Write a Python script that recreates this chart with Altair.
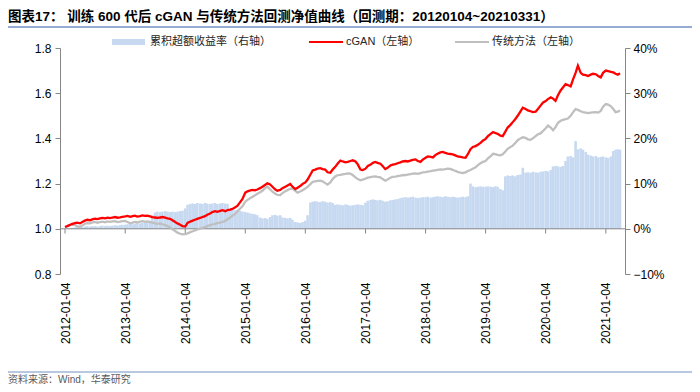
import altair as alt
import pandas as pd

# ---------------- data ----------------
years = list(range(2012, 2021))
dates = [f"{y}-{m:02d}-{d:02d}" for y in years for m in range(1, 13) for d in (4, 18)]
dates += ["2021-01-04", "2021-01-18", "2021-02-04", "2021-02-18",
          "2021-03-04", "2021-03-18", "2021-03-31"]

cgan_nav = [
    1.008, 1.012, 1.018, 1.022, 1.025, 1.027, 1.024, 1.030, 1.036, 1.040, 1.038, 1.042,
    1.045, 1.043, 1.046, 1.048, 1.046, 1.049, 1.047, 1.050, 1.052, 1.049, 1.051, 1.053,
    1.055, 1.057, 1.053, 1.056, 1.058, 1.054, 1.056, 1.059, 1.057, 1.058, 1.055, 1.052,
    1.050, 1.048, 1.050, 1.052, 1.049, 1.046, 1.044, 1.038, 1.030, 1.024, 1.018, 1.012,
    1.010, 1.026, 1.032, 1.036, 1.040, 1.044, 1.048, 1.052, 1.056, 1.062, 1.068, 1.074,
    1.078, 1.075, 1.079, 1.082, 1.078, 1.083, 1.085, 1.088, 1.095, 1.102, 1.118, 1.132,
    1.160, 1.166, 1.170, 1.172, 1.170, 1.174, 1.180, 1.186, 1.194, 1.201, 1.196, 1.186,
    1.175, 1.168, 1.172, 1.180, 1.186, 1.192, 1.198, 1.186, 1.176, 1.182, 1.189, 1.198,
    1.205, 1.218, 1.240, 1.258, 1.262, 1.266, 1.268, 1.264, 1.262, 1.250, 1.248, 1.262,
    1.274, 1.288, 1.302, 1.298, 1.294, 1.296, 1.300, 1.303, 1.298, 1.285, 1.262, 1.260,
    1.266, 1.278, 1.284, 1.292, 1.296, 1.292, 1.288, 1.278, 1.264, 1.270, 1.280, 1.284,
    1.286, 1.290, 1.294, 1.298, 1.300, 1.298, 1.302, 1.305, 1.307, 1.300, 1.296, 1.306,
    1.314, 1.320, 1.318, 1.316, 1.326, 1.332, 1.338, 1.340, 1.336, 1.333, 1.331, 1.329,
    1.325, 1.320, 1.318, 1.316, 1.314, 1.330, 1.352, 1.362, 1.366, 1.372, 1.380, 1.390,
    1.398, 1.410, 1.420, 1.428, 1.424, 1.420, 1.412, 1.410, 1.430, 1.448, 1.460, 1.472,
    1.486, 1.500, 1.520, 1.536, 1.530, 1.524, 1.520, 1.516, 1.518, 1.530, 1.545, 1.558,
    1.565, 1.574, 1.582, 1.576, 1.566, 1.590, 1.612, 1.625, 1.640, 1.636, 1.630, 1.660,
    1.690, 1.722, 1.690, 1.682, 1.680, 1.676, 1.682, 1.686, 1.684, 1.676, 1.670, 1.690,
    1.700, 1.698, 1.694, 1.692, 1.686, 1.682, 1.688,
]

trad_nav = [
    1.008, 1.012, 1.016, 1.018, 1.017, 1.012, 1.008, 1.015, 1.022, 1.025, 1.024, 1.028,
    1.030, 1.027, 1.030, 1.032, 1.029, 1.033, 1.031, 1.033, 1.034, 1.030, 1.032, 1.034,
    1.035, 1.030, 1.024, 1.027, 1.030, 1.028, 1.032, 1.034, 1.031, 1.033, 1.030, 1.027,
    1.024, 1.022, 1.024, 1.020, 1.016, 1.012, 1.006, 0.998, 0.990, 0.983, 0.978, 0.975,
    0.976, 0.980, 0.985, 0.989, 0.993, 0.997, 1.001, 1.004, 1.008, 1.012, 1.016, 1.019,
    1.022, 1.025, 1.027, 1.030, 1.035, 1.042, 1.050, 1.058, 1.066, 1.078, 1.090, 1.100,
    1.120, 1.128, 1.136, 1.142, 1.148, 1.155, 1.162, 1.168, 1.180, 1.186, 1.175, 1.164,
    1.156, 1.150, 1.149, 1.158, 1.166, 1.171, 1.177, 1.178, 1.168, 1.160, 1.165, 1.171,
    1.178, 1.186, 1.198, 1.208, 1.210, 1.212, 1.213, 1.210, 1.202, 1.196, 1.205, 1.220,
    1.232, 1.237, 1.239, 1.241, 1.243, 1.245, 1.244, 1.238, 1.228, 1.220, 1.215, 1.218,
    1.222, 1.226, 1.229, 1.231, 1.232, 1.230, 1.228, 1.220, 1.213, 1.218, 1.226, 1.230,
    1.231, 1.233, 1.235, 1.237, 1.238, 1.240, 1.242, 1.244, 1.245, 1.243, 1.246, 1.250,
    1.251, 1.253, 1.255, 1.257, 1.259, 1.261, 1.263, 1.262, 1.264, 1.266, 1.265, 1.261,
    1.256, 1.252, 1.249, 1.247, 1.250, 1.256, 1.260, 1.266, 1.272, 1.282, 1.290, 1.296,
    1.300, 1.312, 1.322, 1.332, 1.330, 1.327, 1.325, 1.330, 1.342, 1.354, 1.362, 1.368,
    1.380, 1.392, 1.400, 1.405, 1.402, 1.396, 1.394, 1.400, 1.410, 1.418, 1.422, 1.432,
    1.445, 1.457, 1.448, 1.436, 1.450, 1.468, 1.478, 1.482, 1.485, 1.488, 1.500, 1.515,
    1.530, 1.526, 1.520, 1.516, 1.514, 1.512, 1.514, 1.515, 1.516, 1.514, 1.522, 1.540,
    1.552, 1.550, 1.542, 1.530, 1.516, 1.518, 1.524,
]

excess_ret = [
    0.000, 0.001, 0.002, 0.002, 0.003, 0.004, 0.005, 0.004, 0.005, 0.006, 0.005, 0.006,
    0.006, 0.005, 0.006, 0.007, 0.006, 0.007, 0.006, 0.007, 0.008, 0.007, 0.008, 0.009,
    0.009, 0.010, 0.011, 0.010, 0.011, 0.012, 0.012, 0.013, 0.013, 0.014, 0.018, 0.030,
    0.036, 0.038, 0.037, 0.038, 0.039, 0.038, 0.037, 0.038, 0.037, 0.038, 0.039, 0.040,
    0.045, 0.053, 0.055, 0.056, 0.055, 0.057, 0.056, 0.055, 0.057, 0.056, 0.055, 0.056,
    0.057, 0.055, 0.056, 0.057, 0.056, 0.055, 0.045, 0.042, 0.041, 0.042, 0.040, 0.038,
    0.037, 0.036, 0.034, 0.033, 0.032, 0.030, 0.025, 0.023, 0.024, 0.022, 0.026, 0.030,
    0.031, 0.029, 0.030, 0.025, 0.024, 0.023, 0.024, 0.020, 0.015, 0.014, 0.013, 0.015,
    0.018, 0.030, 0.058, 0.060, 0.061, 0.060, 0.059, 0.061, 0.060, 0.058, 0.059, 0.057,
    0.053, 0.054, 0.053, 0.052, 0.054, 0.053, 0.051, 0.052, 0.053, 0.054, 0.053, 0.052,
    0.058, 0.062, 0.064, 0.065, 0.064, 0.063, 0.064, 0.062, 0.060, 0.061, 0.063, 0.064,
    0.065, 0.066, 0.068, 0.069, 0.070, 0.069, 0.070, 0.071, 0.069, 0.068, 0.069, 0.070,
    0.070, 0.071, 0.069, 0.070, 0.071, 0.072, 0.071, 0.070, 0.072, 0.071, 0.070, 0.071,
    0.070, 0.069, 0.070, 0.071, 0.070, 0.072, 0.100, 0.094, 0.092, 0.093, 0.094, 0.093,
    0.093, 0.094, 0.093, 0.092, 0.094, 0.093, 0.088, 0.085, 0.116, 0.118, 0.117, 0.118,
    0.116, 0.119, 0.120, 0.135, 0.124, 0.125, 0.124, 0.126, 0.125, 0.124, 0.126, 0.127,
    0.128, 0.127, 0.130, 0.138, 0.139, 0.138, 0.137, 0.139, 0.150, 0.160, 0.161, 0.158,
    0.194, 0.176, 0.178, 0.175, 0.170, 0.164, 0.162, 0.160, 0.161, 0.158, 0.159, 0.160,
    0.158, 0.157, 0.160, 0.172, 0.175, 0.176, 0.175,
]

tick_years = list(range(2012, 2022))
left_ticks = [0.8, 1.0, 1.2, 1.4, 1.6, 1.8]
right_ticks = [-0.1, 0.0, 0.1, 0.2, 0.3, 0.4]

title_text = "图表17：  训练 600 代后 cGAN 与传统方法回测净值曲线（回测期：20120104~20210331）"
legend_labels = ["累积超额收益率（右轴）", "cGAN（左轴）", "传统方法（左轴）"]
source_text = "资料来源：Wind，华泰研究"

# ---------------- styling ----------------
FONT = "Liberation Sans, Noto Sans CJK SC"
AXIS_GREY = "#868686"
BAR_BLUE = "#C6D9F1"
RED = "#FF0000"
GREY = "#BFBFBF"
RULE_BLUE = "#7391C3"

df = pd.DataFrame({"date": dates, "cgan": cgan_nav, "trad": trad_nav, "excess": excess_ret})
ticks_df = pd.DataFrame({"date": [f"{y}-01-04" for y in tick_years]})
one = pd.DataFrame({"k": [0]})

xscale = alt.Scale(
    type="utc",
    domain=[alt.DateTime(year=2012, month=1, date=4, utc=True),
            alt.DateTime(year=2021, month=3, date=31, utc=True)],
)
xaxis = alt.Axis(
    values=[alt.DateTime(year=y, month=1, date=4, utc=True) for y in tick_years],
    labelExpr="utcFormat(datum.value, '%Y-%m-%d')",
    labelAngle=270, domain=False, ticks=False, tickSize=0, grid=False,
    labelPadding=8, labelFont=FONT, labelFontSize=12, labelColor="#000000",
    title=None, labelOverlap=False,
)
left_axis = alt.Axis(
    orient="left", values=left_ticks, format=".1f", grid=False, title=None,
    domainColor=AXIS_GREY, tickColor=AXIS_GREY, tickSize=5, labelFont=FONT,
    labelFontSize=12, labelColor="#000000", labelPadding=4,
)
right_axis = alt.Axis(
    orient="right", values=right_ticks, format=".0%", grid=False, title=None,
    domainColor=AXIS_GREY, tickColor=AXIS_GREY, tickSize=5, labelFont=FONT,
    labelFontSize=12, labelColor="#000000", labelPadding=3,
)
left_scale = alt.Scale(domain=[0.8, 1.8], nice=False, zero=False)

X = alt.X("date:T", scale=xscale, axis=xaxis)

bars = alt.Chart(df).mark_bar(width=2.6, color=BAR_BLUE, clip=True).encode(
    x=X,
    y=alt.Y("excess:Q", scale=alt.Scale(domain=[-0.1, 0.4], nice=False), axis=right_axis),
)

zero_rule = alt.Chart(one).mark_rule(color=AXIS_GREY, strokeWidth=1).encode(
    y=alt.YDatum(1.0, scale=left_scale, axis=left_axis),
)
year_ticks = alt.Chart(ticks_df).mark_rule(color=AXIS_GREY, strokeWidth=1).encode(
    x=X,
    y=alt.YDatum(1.0, scale=left_scale, axis=left_axis),
    y2=alt.Y2Datum(0.979),
)
trad_line = alt.Chart(df).mark_line(color=GREY, strokeWidth=2.3, clip=True).encode(
    x=X,
    y=alt.Y("trad:Q", scale=left_scale, axis=left_axis),
)
cgan_line = alt.Chart(df).mark_line(color=RED, strokeWidth=2.3, clip=True).encode(
    x=X,
    y=alt.Y("cgan:Q", scale=left_scale, axis=left_axis),
)

# ---- decorations (title, legend, source) ----
title = alt.Chart(one).mark_text(
    align="left", baseline="alphabetic", font=FONT, fontSize=13.5,
    fontWeight="bold", color="#000000",
).encode(x=alt.value(-52), y=alt.value(-27), text=alt.value(title_text))
title_line = alt.Chart(one).mark_rule(color=RULE_BLUE, strokeWidth=1.5).encode(
    x=alt.value(-52), x2=alt.value(632), y=alt.value(-21))

leg_rect = alt.Chart(one).mark_rect(color=BAR_BLUE).encode(
    x=alt.value(52), x2=alt.value(85), y=alt.value(-9), y2=alt.value(-3))
leg_red = alt.Chart(one).mark_rule(color=RED, strokeWidth=2).encode(
    x=alt.value(249), x2=alt.value(283), y=alt.value(-6))
leg_grey = alt.Chart(one).mark_rule(color=GREY, strokeWidth=2).encode(
    x=alt.value(395), x2=alt.value(429), y=alt.value(-6))
leg_txt_style = dict(align="left", baseline="middle", font=FONT, fontSize=11, color="#262626")
leg_t1 = alt.Chart(one).mark_text(**leg_txt_style).encode(
    x=alt.value(90), y=alt.value(-6), text=alt.value(legend_labels[0]))
leg_t2 = alt.Chart(one).mark_text(**leg_txt_style).encode(
    x=alt.value(286), y=alt.value(-6), text=alt.value(legend_labels[1]))
leg_t3 = alt.Chart(one).mark_text(**leg_txt_style).encode(
    x=alt.value(432), y=alt.value(-6), text=alt.value(legend_labels[2]))

src_line = alt.Chart(one).mark_rule(color=RULE_BLUE, strokeWidth=1.2).encode(
    x=alt.value(-52), x2=alt.value(632), y=alt.value(324))
src_text = alt.Chart(one).mark_text(
    align="left", baseline="alphabetic", font=FONT, fontSize=10, color="#595959",
).encode(x=alt.value(-52), y=alt.value(335), text=alt.value(source_text))

left_group = alt.layer(
    zero_rule, year_ticks, trad_line, cgan_line,
    title, title_line, leg_rect, leg_red, leg_grey, leg_t1, leg_t2, leg_t3,
    src_line, src_text,
)

chart = alt.layer(bars, left_group).resolve_scale(y="independent").properties(
    width=565, height=226,
    autosize=alt.AutoSizeParams(type="none"),
    padding={"left": 52, "top": 40, "right": 67, "bottom": 110},
    background="white",
).configure_view(strokeWidth=0)

chart.save("out.html", embed_options={"renderer": "svg", "actions": False})
